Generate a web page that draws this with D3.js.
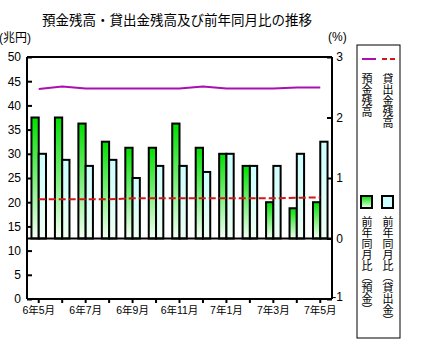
<!DOCTYPE html>
<html><head><meta charset="utf-8">
<script src="https://cdn.jsdelivr.net/npm/d3@7"></script>
<style>
body{margin:0;background:#fff}
svg{display:block}
text{font-family:"Liberation Sans",Arial,"Noto Sans CJK JP",sans-serif;fill:#000}
</style>
</head><body>
<svg id="c" width="437" height="360"></svg>
<script>
const categories = ["6年5月","6年6月","6年7月","6年8月","6年9月","6年10月","6年11月","6年12月","7年1月","7年2月","7年3月","7年4月","7年5月"];
const xTickLabels = ["6年5月","6年7月","6年9月","6年11月","7年1月","7年3月","7年5月"];
const depositBalance = [43.4,43.9,43.5,43.5,43.5,43.5,43.5,43.9,43.5,43.5,43.5,43.7,43.7];
const loanBalance = [20.6,20.6,20.6,20.6,20.8,20.8,20.8,20.8,20.8,20.8,20.8,20.9,21.0];
const depositYoY = [2.0,2.0,1.9,1.6,1.5,1.5,1.9,1.5,1.4,1.2,0.6,0.5,0.6];
const loanYoY = [1.4,1.3,1.2,1.3,1.0,1.2,1.2,1.1,1.4,1.2,1.2,1.4,1.6];
const leftTicks = [0,5,10,15,20,25,30,35,40,45,50];
const rightTicks = [-1,0,1,2,3];

const svg = d3.select("#c");
const L = 27, R = 332, T = 57, B = 299;

const x = d3.scaleBand().domain(categories).range([L, R]).paddingInner(0.38).paddingOuter(0.19);
const xs = d3.scaleBand().domain(["dep","loan"]).range([0, x.bandwidth()]);
const yL = d3.scaleLinear().domain([0, 50]).range([B, T]);
const yR = d3.scaleLinear().domain([-1, 3]).range([B, T]);

const defs = svg.append("defs");
const g1 = defs.append("linearGradient").attr("id","gGreen").attr("x1",0).attr("y1",0).attr("x2",0).attr("y2",1);
g1.append("stop").attr("offset","0").attr("stop-color","#00e000");
g1.append("stop").attr("offset","1").attr("stop-color","#f4fff4");
const g2 = defs.append("linearGradient").attr("id","gCyan").attr("x1",0).attr("y1",0).attr("x2",0).attr("y2",1);
g2.append("stop").attr("offset","0").attr("stop-color","#ccffff");
g2.append("stop").attr("offset","1").attr("stop-color","#eefff2");

// title
svg.append("text").attr("x",177).attr("y",25).attr("text-anchor","middle")
  .style("font-size","13.5px").style("font-family",'"Noto Sans CJK JP",sans-serif')
  .text("預金残高・貸出金残高及び前年同月比の推移");
svg.append("text").attr("x",-1).attr("y",42).style("font-size","12px").text("(兆円)");
svg.append("text").attr("x",328).attr("y",41).style("font-size","12px").text("(%)");

// bars
const bars = svg.append("g");
categories.forEach((c, i) => {
  bars.append("rect").attr("x", x(c) + xs("dep")).attr("width", xs.bandwidth())
    .attr("y", yR(depositYoY[i])).attr("height", yR(0) - yR(depositYoY[i]))
    .attr("fill","url(#gGreen)").attr("stroke","#000").attr("stroke-width",2);
  bars.append("rect").attr("x", x(c) + xs("loan")).attr("width", xs.bandwidth())
    .attr("y", yR(loanYoY[i])).attr("height", yR(0) - yR(loanYoY[i]))
    .attr("fill","url(#gCyan)").attr("stroke","#000").attr("stroke-width",2);
});

// baseline for bars
svg.append("line").attr("x1",L).attr("x2",R).attr("y1",yR(0)).attr("y2",yR(0)).attr("stroke","#000").attr("stroke-width",2);
// top frame
svg.append("line").attr("x1",L).attr("x2",R).attr("y1",T).attr("y2",T).attr("stroke","#000").attr("stroke-width",2);

// lines
const cx = c => x(c) + x.bandwidth()/2;
svg.append("path").datum(depositBalance)
  .attr("d", d3.line().x((d,i)=>cx(categories[i])).y(d=>yL(d)))
  .attr("fill","none").attr("stroke","#aa10b0").attr("stroke-width",2);
svg.append("path").datum(loanBalance)
  .attr("d", d3.line().x((d,i)=>cx(categories[i])).y(d=>yL(d)))
  .attr("fill","none").attr("stroke","#d01818").attr("stroke-width",2).attr("stroke-dasharray","7,3");

// axes
const axL = svg.append("g").attr("transform",`translate(${L},0)`)
  .call(d3.axisLeft(yL).tickValues(leftTicks).tickSize(-5).tickSizeOuter(0).tickPadding(6));
const axR = svg.append("g").attr("transform",`translate(${R},0)`)
  .call(d3.axisRight(yR).tickValues(rightTicks).tickSize(-5).tickSizeOuter(0).tickPadding(11).tickFormat(d => String(d)));
axR.selectAll("text").attr("text-anchor","end");
const axB = svg.append("g").attr("transform",`translate(0,${B})`)
  .call(d3.axisBottom(x).tickSize(4).tickSizeOuter(0).tickPadding(4).tickFormat(d => xTickLabels.includes(d) ? d : ""));
[axL, axR, axB].forEach(a => {
  a.select(".domain").attr("stroke","#000").attr("stroke-width",2);
  a.selectAll(".tick line").attr("stroke","#000").attr("stroke-width",2);
  a.selectAll("text").style("font-family",'"Liberation Sans",Arial,"Noto Sans CJK JP",sans-serif').attr("fill","#000");
});
axL.selectAll("text").style("font-size","12px");
axR.selectAll("text").style("font-size","12px");
axR.selectAll(".tick").filter(d => d === -1).select("text").attr("dy","0.15em");
axB.selectAll("text").style("font-size","10.5px");
// extend axes to frame
axL.select(".domain").attr("d", `M0,${T}V${B}`);
axR.select(".domain").attr("d", `M0,${T}V${B}`);
axB.select(".domain").attr("d", `M${L},0H${R}`);

// legend
const lg = svg.append("g");
lg.append("rect").attr("x",357).attr("y",45).attr("width",43).attr("height",293)
  .attr("fill","#fff").attr("stroke","#000").attr("stroke-width",1);
lg.append("line").attr("x1",362).attr("x2",376).attr("y1",59).attr("y2",59).attr("stroke","#aa10b0").attr("stroke-width",2);
lg.append("line").attr("x1",382).attr("x2",397).attr("y1",59).attr("y2",59).attr("stroke","#d01818").attr("stroke-width",2).attr("stroke-dasharray","5,3");
const vtext = (xx, yy, t) => lg.append("text").attr("x",xx).attr("y",yy)
  .style("writing-mode","vertical-rl").style("font-size","11px")
  .style("font-family",'"Noto Sans CJK JP",sans-serif').text(t);
vtext(367, 73, "預金残高");
vtext(388, 73, "貸出金残高");
lg.append("rect").attr("x",361).attr("y",196).attr("width",11).attr("height",12)
  .attr("fill","url(#gGreen)").attr("stroke","#000").attr("stroke-width",2);
lg.append("rect").attr("x",382).attr("y",196).attr("width",11).attr("height",12)
  .attr("fill","#ccffff").attr("stroke","#000").attr("stroke-width",2);
vtext(367, 216, "前年同月比（預金）");
vtext(388, 216, "前年同月比（貸出金）");
</script>
</body></html>
